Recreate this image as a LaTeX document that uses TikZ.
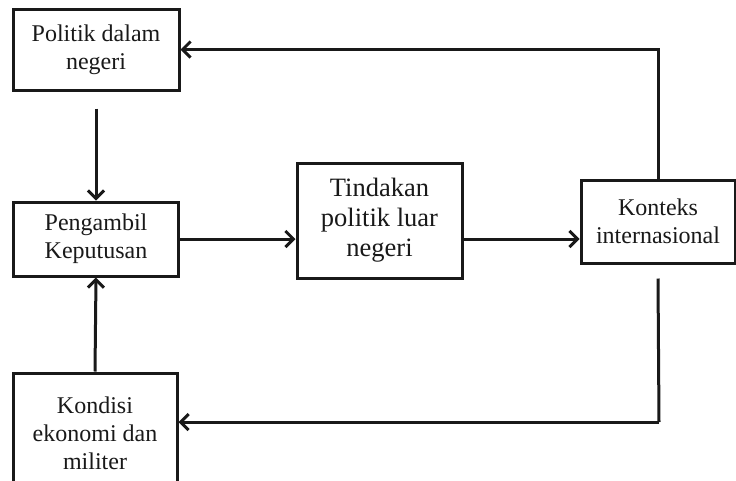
\documentclass[tikz,border=0pt]{standalone}
\usepackage{fontspec}
\setmainfont{Liberation Serif}
\usetikzlibrary{arrows.meta,calc}
\tikzset{
  boxn/.style={draw=black!90, line width=3pt, fill=white, align=center, inner sep=0pt,
    font=\fontsize{24}{28}\selectfont, text=black!90},
  bigboxn/.style={boxn, font=\fontsize{26.5}{30}\selectfont},
  arr/.style={draw=black!90, line width=3pt, -{Straight Barb[length=8pt,width=16pt,line width=3pt]}},
  ln/.style={draw=black!90, line width=3pt}
}
\begin{document}
\begin{tikzpicture}[x=1pt,y=-1pt]
\useasboundingbox (0,0) rectangle (736,480);
\clip (0,0) rectangle (736,480);
\node[boxn, minimum width=166pt, minimum height=81pt] (pol) at (96,49.5) {Politik dalam\\negeri};
\node[boxn, minimum width=165pt, minimum height=74pt] (peng) at (96,239) {Pengambil\\Keputusan};
\node[bigboxn, minimum width=165pt, minimum height=115pt] (tind) at (379.5,220.5) {Tindakan\\politik luar\\negeri};
\node[boxn, minimum width=154pt, minimum height=83pt] (kont) at (658,221.5) {Konteks\\internasional};
\node[boxn, minimum width=164pt, minimum height=120pt] (kond) at (95,433) {Kondisi\\ekonomi dan\\militer};
\coordinate (k2) at (659,422);
\draw[arr] ($(pol.south)+(0,17)$) -- (peng.north);
\draw[arr] (peng.east) -- (tind.west |- peng.east);
\draw[arr] (tind.east |- peng.east) -- (kont.west |- peng.east);
\draw[arr] (kont.north) |- (pol.east);
\draw[ln] ($(kont.south)+(0,14)$) -- (k2);
\draw[arr] (k2) -- (k2 -| kond.east);
\draw[arr] (kond.north) -- (peng.south);
\end{tikzpicture}
\end{document}
